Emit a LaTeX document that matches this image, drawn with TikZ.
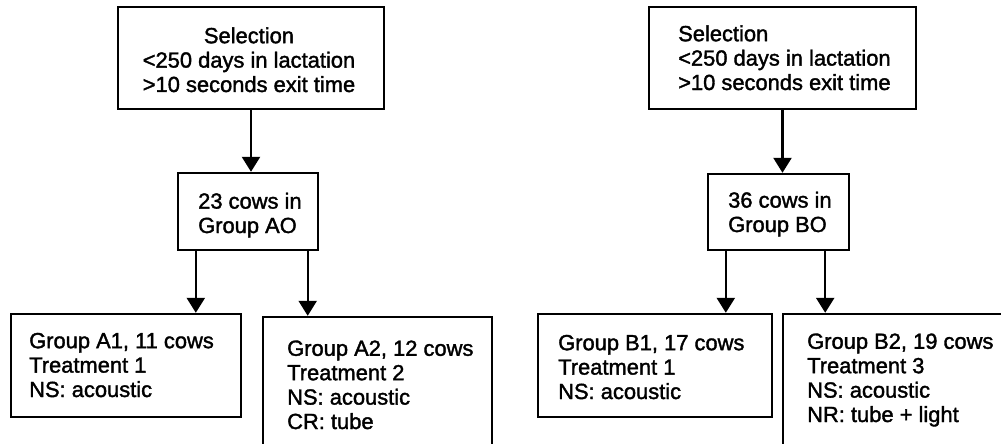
\documentclass[tikz,border=0pt]{standalone}
\usepackage{fontspec}
\setmainfont{Liberation Sans}[BoldFont={Liberation Sans}, BoldFeatures={FakeBold=1.6}]
\usetikzlibrary{arrows.meta}
\begin{document}
\begin{tikzpicture}[x=1pt,y=-1pt,
  box/.style={draw=black, line width=2.4pt, inner sep=0pt, minimum width=#1},
  box/.default=100pt,
  txt/.style={inner sep=0pt, font=\fontsize{21.9}{24.4}\selectfont\bfseries, align=left, anchor=base west},
  arr/.style={line width=2.4pt, -{Triangle[width=18pt,length=15pt]}}]
\useasboundingbox (0,0) rectangle (1001,444);
\clip (0,0) rectangle (1001,444);
% boxes
\node[box=266pt, minimum height=102pt] (sel1) at (251,58) {};
\node[box=267pt, minimum height=102pt] (sel2) at (782.5,58) {};
\node[box=140pt, minimum height=77pt] (ao) at (248,211.5) {};
\node[box=141pt, minimum height=76pt] (bo) at (778.5,212) {};
\node[box=230pt, minimum height=103pt] (a1) at (126,365.5) {};
\node[box=229pt, minimum height=136pt] (a2) at (377.5,385) {};
\node[box=234pt, minimum height=103pt] (b1) at (655,365.5) {};
\node[box=247pt, minimum height=156pt] (b2) at (906.5,392) {};
% texts (anchor = baseline of last line)
\node[txt, align=center, anchor=base] (sel1t) at (249,92) {Selection\\<250 days in lactation\\>10 seconds exit time};
\node[txt] (sel2t) at (678,90) {Selection\\<250 days in lactation\\>10 seconds exit time};
\node[txt] (aot) at (198,233) {23 cows in\\Group AO};
\node[txt] (bot) at (728,232) {36 cows in\\Group BO};
\node[txt] (a1t) at (29,397) {Group A1, 11 cows\\Treatment 1\\NS: acoustic};
\node[txt] (a2t) at (287,429) {Group A2, 12 cows\\Treatment 2\\NS: acoustic\\CR: tube};
\node[txt] (b1t) at (558,399) {Group B1, 17 cows\\Treatment 1\\NS: acoustic};
\node[txt] (b2t) at (807,422) {Group B2, 19 cows\\Treatment 3\\NS: acoustic\\NR: tube + light};
% connectors
\draw[arr] (sel1.south) -- (sel1.south |- ao.north);
\draw[arr] (sel2.south) -- (sel2.south |- bo.north);
\draw[arr] ([xshift=19pt]ao.south west) coordinate (p1) -- (p1 |- a1.north);
\draw[arr] ([xshift=-11.5pt]ao.south east) coordinate (p2) -- (p2 |- a2.north);
\draw[arr] ([xshift=19pt]bo.south west) coordinate (p3) -- (p3 |- b1.north);
\draw[arr] ([xshift=-25pt]bo.south east) coordinate (p4) -- (p4 |- b2.north);
\end{tikzpicture}
\end{document}
